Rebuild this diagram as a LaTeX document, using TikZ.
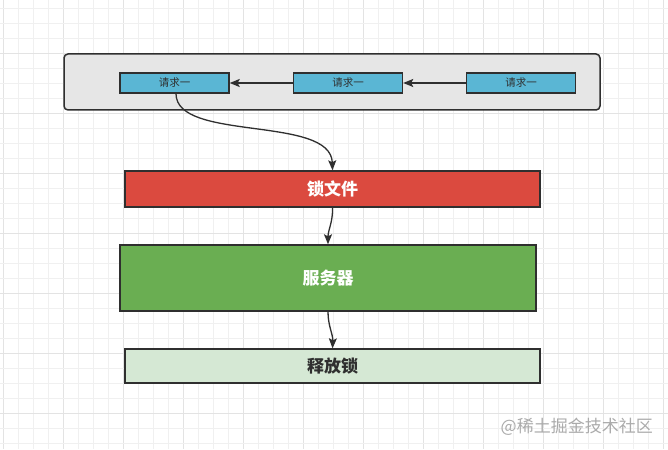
\documentclass[tikz,border=0pt]{standalone}
\usepackage{fontspec}
\newfontfamily\cjk{Noto Sans CJK SC}
\usetikzlibrary{arrows.meta}
\definecolor{edge}{HTML}{2F2F2F}
\definecolor{panel}{HTML}{E6E6E6}
\definecolor{reqblue}{HTML}{5AB6D4}
\definecolor{lockred}{HTML}{DB4A3F}
\definecolor{srvgreen}{HTML}{6AAE52}
\definecolor{relgreen}{HTML}{D5E8D4}
\definecolor{gridminor}{HTML}{F0F0F0}
\definecolor{gridmajor}{HTML}{E3E3E3}
\definecolor{wmark}{HTML}{ABABAB}
\tikzset{
  reqbox/.style={draw=edge, line width=1.4pt, fill=reqblue, inner sep=0pt,
    minimum width=109pt, minimum height=20pt, font=\cjk\fontsize{10.5}{12}\selectfont, text=edge},
  bigbox/.style={draw=edge, line width=1.4pt, inner sep=0pt, font=\cjk\bfseries\fontsize{17}{19}\selectfont},
  conn/.style={draw=edge, line width=1.3pt, -{Stealth[length=10pt,width=8pt,inset=2pt]}},
}
\begin{document}
\begin{tikzpicture}[x=1pt,y=-1pt]
\useasboundingbox (0,0) rectangle (668,449);
\fill[white] (0,0) rectangle (668,449);
% grid
\foreach \i in {0,...,44} {
  \pgfmathtruncatemacro\m{mod(\i,4)}
  \ifnum\m=0 \draw[gridmajor,line width=0.8pt] (3+15*\i,0) -- (3+15*\i,449);
  \else \draw[gridminor,line width=0.8pt] (3+15*\i,0) -- (3+15*\i,449); \fi
}
\foreach \j in {0,...,29} {
  \pgfmathtruncatemacro\m{mod(\j+1,4)}
  \ifnum\m=0 \draw[gridmajor,line width=0.8pt] (0,8+15*\j) -- (668,8+15*\j);
  \else \draw[gridminor,line width=0.8pt] (0,8+15*\j) -- (668,8+15*\j); \fi
}
% panel
\node[draw=edge, line width=1.5pt, fill=panel, rounded corners=4pt, inner sep=0pt,
  minimum width=536pt, minimum height=56pt] (panel) at (332,82) {};
\node[reqbox] (r1) at (174.5,83) {请求一};
\node[reqbox] (r2) at (348,83) {请求一};
\node[reqbox] (r3) at (521,83) {请求一};
\draw[conn] (r3.west) -- (r2.east);
\draw[conn] (r2.west) -- (r1.east);
% main boxes
\node[bigbox, fill=lockred, text=white, minimum width=415pt, minimum height=36pt] (lock) at (332.5,189) {锁文件};
\node[bigbox, fill=srvgreen, text=white, minimum width=416pt, minimum height=66pt] (srv) at (328,278) {服务器};
\node[bigbox, fill=relgreen, text=edge, minimum width=415pt, minimum height=34pt] (rel) at (332.5,366) {释放锁};
\draw[conn] ([xshift=1.5pt]r1.south) .. controls (176,142) and (331,115) .. (lock.north);
\draw[conn] (lock.south) .. controls (333,222) and (328,230) .. (srv.north);
\draw[conn] (srv.south) .. controls (328,326) and (333,334) .. (rel.north);
% watermark
\node[font=\cjk\fontsize{17}{19}\selectfont, text=wmark, anchor=east, inner sep=0pt] (wm) at (653,427) {@稀土掘金技术社区};
\end{tikzpicture}
\end{document}
